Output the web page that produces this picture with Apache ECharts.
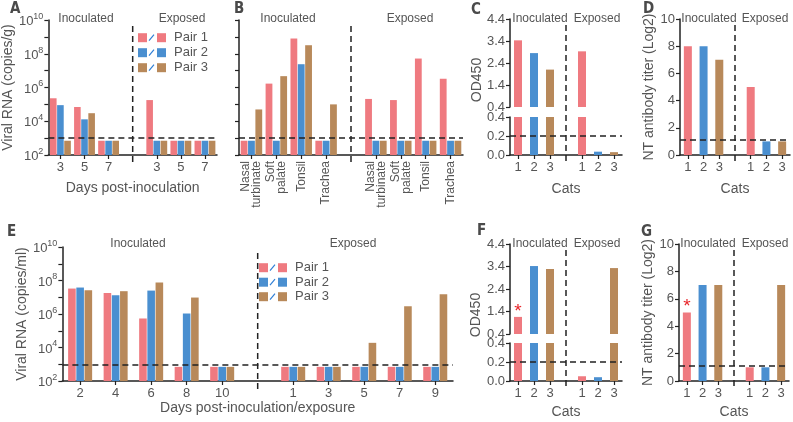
<!DOCTYPE html>
<html><head><meta charset="utf-8">
<script src="https://cdn.jsdelivr.net/npm/echarts@6/dist/echarts.min.js"></script>
<style>html,body{margin:0;padding:0;background:#fff}#c{width:793px;height:422px}</style>
</head><body><div id="c"></div>
<script>
// ---------- DATA ----------
const pairNames = ['Pair 1', 'Pair 2', 'Pair 3'];
const pairColors = ['#EF7A80', '#4A8FD0', '#B8895A'];

// Panel A: viral RNA in nasal washes (copies/g)
const aCats = ['3', '5', '7', '', '3', '5', '7'];
const aPair1 = [2.3e5, 7e4, 700, null, 1.8e5, 700, 700];
const aPair2 = [9e4, 1.3e4, 700, null, 700, 700, 700];
const aPair3 = [700, 3e4, 700, null, 700, 700, 700];

// Panel B: tissues
const bCats = ['Nasal\nturbinate', 'Soft\npalate', 'Tonsil', 'Trachea', '', 'Nasal\nturbinate', 'Soft\npalate', 'Tonsil', 'Trachea'];
const bPair1 = [700, 1.7e6, 8e8, 700, null, 2.1e5, 1.8e5, 5.2e7, 3.3e6];
const bPair2 = [700, 700, 2.4e7, 700, null, 700, 700, 700, 700];
const bPair3 = [5e4, 4.7e6, 3.2e8, 1e5, null, 700, 700, 700, 700];

// Panels C, D, F, G: cats
const catCats = ['1', '2', '3', '', '1', '2', '3'];
const catPairIdx = [0, 1, 2, null, 0, 1, 2];
const cOD = [3.43, 2.85, 2.1, null, 2.93, 0.035, 0.03];
const dNT = [8, 8, 7, null, 5, 1, 1];
const fOD = [1.16, 3.42, 3.29, null, 0.05, 0.04, 3.33];
const gNT = [5, 7, 7, null, 1, 1, 7];
const starredCat = 0;

// Panel E: viral RNA (copies/ml)
const eCats = ['2', '4', '6', '8', '10', '', '1', '3', '5', '7', '9'];
const ePair1 = [3.3e7, 1.8e7, 5.4e5, 700, 700, null, 700, 700, 700, 700, 700];
const ePair2 = [3.8e7, 1.3e7, 2.5e7, 1.07e6, 700, null, 700, 700, 700, 700, 700];
const ePair3 = [2.6e7, 2.3e7, 7.5e7, 9.6e6, 700, null, 700, 700, 1.9e4, 2.9e6, 1.5e7];

const rnaLimit = 1000;
const odCutoff = 0.2;
const ntLimit = 1.1;

// ---------- CHART ----------
const FONT = 'Liberation Sans';
const TXT = '#555';
const AX = '#222';
const chart = echarts.init(document.getElementById('c'));

const grids = [
  {left: 44, top: 20, width: 173, height: 135},   // A
  {left: 239, top: 20, width: 224, height: 135},  // B
  {left: 510, top: 19, width: 112, height: 88},   // C upper
  {left: 510, top: 117, width: 112, height: 38},  // C lower
  {left: 680, top: 19, width: 110, height: 136},  // D
  {left: 45, top: 247, width: 408, height: 134},  // E
  {left: 510, top: 244, width: 112, height: 90},  // F upper
  {left: 510, top: 343, width: 112, height: 38},  // F lower
  {left: 679, top: 244, width: 110, height: 137}  // G
];

function catAxis(gi, data, name, nameGap, labelExtra) {
  return {
    type: 'category', gridIndex: gi, data: data,
    axisLine: {show: true, lineStyle: {color: AX, width: 1.5}},
    axisTick: {show: true, alignWithLabel: true, length: 4, interval: (i, v) => v !== '', lineStyle: {color: AX, width: 1.2}},
    axisLabel: Object.assign({show: true, interval: 0, color: TXT, fontSize: 13, fontFamily: FONT, margin: 6}, labelExtra || {}),
    name: name || '', nameLocation: 'middle', nameGap: nameGap || 20,
    nameTextStyle: {color: TXT, fontSize: 14, fontFamily: FONT}
  };
}
function hiddenCat(gi, data) {
  return {type: 'category', gridIndex: gi, data: data, show: false};
}
function logAxis(gi, showLabels, name, nameGap) {
  return {
    type: 'log', gridIndex: gi, logBase: 10, min: 100, max: 1e10, splitNumber: 8, startValue: 100,
    axisLine: {show: true, lineStyle: {color: AX, width: 1.5}},
    axisTick: {show: true, length: 4, lineStyle: {color: AX, width: 1.2}},
    splitLine: {show: false},
    axisLabel: {
      show: showLabels, color: TXT, fontFamily: FONT, margin: 5,
      formatter: v => { const e = Math.round(Math.log10(v)); return e % 2 ? '' : '{b|10}{s|' + e + '}'; },
      rich: {
        b: {fontSize: 13, color: TXT, fontFamily: FONT, lineHeight: 16, verticalAlign: 'bottom'},
        s: {fontSize: 9, color: TXT, fontFamily: FONT, lineHeight: 16, verticalAlign: 'top'}
      }
    },
    name: name || '', nameLocation: 'middle', nameGap: nameGap || 30, nameRotate: 90,
    nameTextStyle: {color: TXT, fontSize: 14, fontFamily: FONT}
  };
}
function valAxis(gi, min, max, interval, fmt, name, nameGap) {
  return {
    type: 'value', gridIndex: gi, min: min, max: max, interval: interval,
    axisLine: {show: true, lineStyle: {color: AX, width: 1.5}},
    axisTick: {show: true, length: 4, lineStyle: {color: AX, width: 1.2}},
    splitLine: {show: false},
    axisLabel: {color: TXT, fontSize: 13, fontFamily: FONT, margin: 5, formatter: fmt},
    name: name || '', nameLocation: 'middle', nameGap: nameGap || 25, nameRotate: 90,
    nameTextStyle: {color: TXT, fontSize: 14, fontFamily: FONT}
  };
}
const dashStyle = {type: [6, 4], color: AX, width: 1.5};
function limitLine(v) {
  return {symbol: 'none', silent: true, label: {show: false}, lineStyle: dashStyle, data: [{yAxis: v}]};
}
function pairSeries(gi, arrays, barWidth, limit) {
  return arrays.map((d, i) => {
    const s = {
      type: 'bar', name: pairNames[i], xAxisIndex: gi, yAxisIndex: gi, data: d,
      barWidth: barWidth, barGap: '8%', clip: true,
      itemStyle: {color: pairColors[i]}
    };
    if (i === 0) s.markLine = limitLine(limit);
    return s;
  });
}
function catSeries(gi, vals, limit, star) {
  const data = vals.map((v, i) => {
    if (v == null) return null;
    const item = {value: v, itemStyle: {color: pairColors[catPairIdx[i]]}};
    if (star && i === starredCat) {
      item.label = {show: true, position: 'top', distance: -4, formatter: '*', color: '#E8262B', fontSize: 19, fontFamily: FONT};
    }
    return item;
  });
  const s = {type: 'bar', xAxisIndex: gi, yAxisIndex: gi, data: data, barWidth: 8, clip: true};
  if (limit != null) s.markLine = limitLine(limit);
  return s;
}
const odFmt = v => v.toFixed(1);

const option = {
  animation: false,
  textStyle: {fontFamily: FONT},
  grid: grids,
  xAxis: [
    catAxis(0, aCats, 'Days post-inoculation', 26),
    catAxis(1, bCats, '', 20, {rotate: 90, fontSize: 12, lineHeight: 11, margin: 6}),
    hiddenCat(2, catCats),
    catAxis(3, catCats, 'Cats', 27),
    catAxis(4, catCats, 'Cats', 27),
    catAxis(5, eCats, 'Days post-inoculation/exposure', 16),
    hiddenCat(6, catCats),
    catAxis(7, catCats, 'Cats', 24),
    catAxis(8, catCats, 'Cats', 24)
  ],
  yAxis: [
    logAxis(0, true, 'Viral RNA (copies/g)', 27),
    logAxis(1, false),
    valAxis(2, 0.4, 4.4, 1, odFmt),
    valAxis(3, 0, 0.4, 0.2, odFmt),
    valAxis(4, 0, 10, 2, null, 'NT antibody titer (Log2)', 24),
    logAxis(5, true, 'Viral RNA (copies/ml)', 29),
    valAxis(6, 0.4, 4.4, 1, odFmt),
    valAxis(7, 0, 0.4, 0.2, odFmt),
    valAxis(8, 0, 10, 2, null, 'NT antibody titer (Log2)', 23)
  ],
  series: [].concat(
    pairSeries(0, [aPair1, aPair2, aPair3], 6.6, rnaLimit),
    pairSeries(1, [bPair1, bPair2, bPair3], 6.8, rnaLimit),
    [catSeries(2, cOD, null, false), catSeries(3, cOD, odCutoff, false), catSeries(4, dNT, ntLimit, false)],
    pairSeries(5, [ePair1, ePair2, ePair3], 7.6, rnaLimit),
    [catSeries(6, fOD, null, true), catSeries(7, fOD, odCutoff, false), catSeries(8, gNT, ntLimit, true)]
  )
};
chart.setOption(option);

// ---------- decorations ----------
const g = [];
function txt(x, y, s, opts) {
  g.push(Object.assign({type: 'text', x: x, y: y, silent: true, style: Object.assign({
    text: s, fill: TXT, font: '12px "' + FONT + '"', textAlign: 'center', textVerticalAlign: 'middle'
  }, opts || {})}));
}
// group headers
[[86, 182, 19], [288, 410, 19], [540, 597, 19], [709, 765, 19],
 [138, 353, 244], [540, 597, 244], [708, 765, 244]].forEach(h => {
  txt(h[0], h[2], 'Inoculated');
  txt(h[1], h[2], 'Exposed');
});
// panel letters
[['A', 10, 9], ['B', 234, 9], ['C', 471, 10], ['D', 643, 9], ['E', 7, 232], ['F', 477, 231], ['G', 641, 232]].forEach(p => {
  txt(p[1], p[2], p[0], {textAlign: 'left', fill: '#4a4a4a', font: 'bold 15px "DejaVu Sans Condensed"'});
});
// OD450 titles
[[477, 80], [476, 315]].forEach(p => {
  g.push({type: 'text', x: p[0], y: p[1], rotation: Math.PI / 2, silent: true,
    style: {text: 'OD450', fill: TXT, font: '14px "' + FONT + '"', textAlign: 'center', textVerticalAlign: 'middle'}});
});
// legends
function legend(x, y0, dy) {
  pairColors.forEach((c, i) => {
    const y = y0 + i * dy;
    g.push({type: 'rect', silent: true, shape: {x: x, y: y - 4.5, width: 9, height: 9}, style: {fill: c}});
    g.push({type: 'line', silent: true, shape: {x1: x + 11, y1: y + 3, x2: x + 16, y2: y - 3}, style: {stroke: '#2F7FD6', lineWidth: 1.2}});
    g.push({type: 'rect', silent: true, shape: {x: x + 19, y: y - 4.5, width: 9, height: 9}, style: {fill: c}});
    txt(x + 36, y, pairNames[i], {textAlign: 'left', font: '13px "' + FONT + '"'});
  });
}
legend(138, 37.7, 15);
legend(259, 267.7, 14.5);
// vertical dividers at the gap category
const dividers = [
  {ax: 0, idx: 3, grid: 0}, {ax: 1, idx: 4, grid: 1}, {ax: 3, idx: 3, grid: 2, gridB: 3},
  {ax: 4, idx: 3, grid: 4}, {ax: 5, idx: 5, grid: 5}, {ax: 7, idx: 3, grid: 6, gridB: 7}, {ax: 8, idx: 3, grid: 8}
];
dividers.forEach(d => {
  const x = chart.convertToPixel({xAxisIndex: d.ax}, d.idx);
  const gt = grids[d.grid];
  const gb = grids[d.gridB != null ? d.gridB : d.grid];
  g.push({type: 'line', silent: true, shape: {x1: x, y1: gt.top + 6, x2: x, y2: gb.top + gb.height + 9},
    style: {stroke: AX, lineWidth: 1.5, lineDash: [6, 4]}});
});
chart.setOption({graphic: {elements: g}});
</script>
</body></html>
